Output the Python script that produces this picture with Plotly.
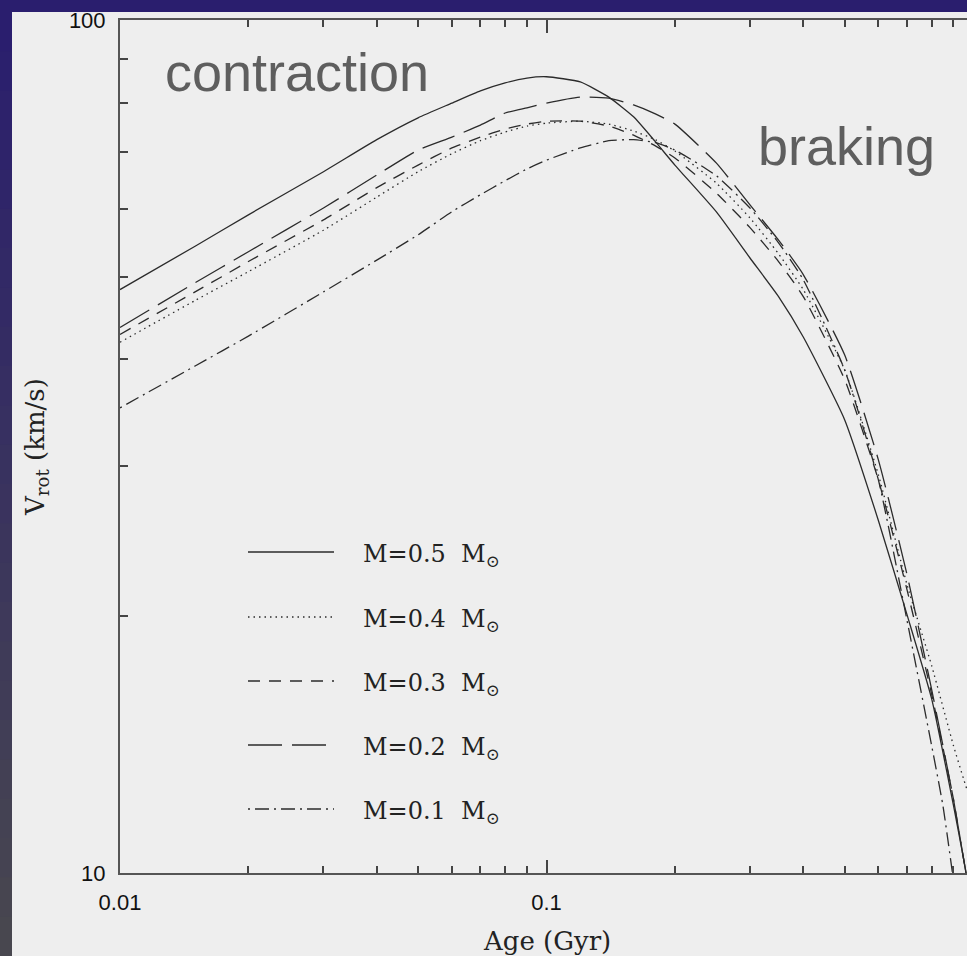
import plotly.graph_objects as go

# ---------------- data ----------------
ages = [0.01, 0.015, 0.02, 0.03, 0.04, 0.05, 0.06, 0.07, 0.08, 0.09, 0.1,
        0.12, 0.14, 0.16, 0.18, 0.2, 0.25, 0.3, 0.35, 0.4, 0.5, 0.6, 0.7,
        0.8, 0.9, 0.95]

ages_05 = ages + [0.97]
v_05 = [48.3, 54.3, 59.1, 66.4, 72.4, 76.8, 79.9, 82.6, 84.4, 85.5, 85.8,
        84.6, 81.2, 77.0, 72.0, 67.6, 59.6, 52.6, 47.4, 42.5, 34.0, 25.9,
        20.1, 16.0, 12.0, 10.4, 9.8]

ages_04 = ages + [1.0]
v_04 = [41.9, 46.9, 50.7, 56.7, 62.0, 66.4, 69.7, 72.2, 73.9, 75.1, 75.7,
        76.1, 75.5, 74.1, 72.4, 70.2, 64.4, 58.6, 53.2, 48.3, 38.9, 29.3,
        21.8, 17.5, 14.1, 12.9, 11.9]

ages_03 = ages + [0.97]
v_03 = [42.8, 48.0, 52.1, 58.3, 63.6, 67.6, 70.8, 72.9, 74.5, 75.5, 76.1,
        76.1, 75.1, 73.3, 71.2, 68.9, 62.7, 57.1, 52.1, 47.4, 37.9, 28.9,
        21.5, 16.2, 12.2, 10.4, 9.8]

ages_02 = ages + [0.97]
v_02 = [43.6, 49.2, 53.5, 60.2, 65.8, 70.4, 72.9, 75.3, 77.8, 78.9, 79.9,
        81.2, 81.0, 79.5, 77.6, 75.5, 68.0, 60.7, 55.2, 50.3, 40.5, 30.5,
        22.4, 16.4, 12.2, 10.4, 9.8]

ages_01 = ages[:24] + [0.85, 0.9]
v_01 = [35.1, 39.3, 42.6, 48.0, 52.3, 56.0, 59.6, 62.4, 64.8, 66.9, 68.5,
        70.8, 72.2, 72.4, 71.8, 70.4, 65.7, 60.2, 54.8, 49.6, 38.9, 28.9,
        19.8, 14.1, 12.0, 9.8]

series_labels = ["M=0.5&nbsp; M<sub>⊙</sub>", "M=0.4&nbsp; M<sub>⊙</sub>",
                 "M=0.3&nbsp; M<sub>⊙</sub>", "M=0.2&nbsp; M<sub>⊙</sub>",
                 "M=0.1&nbsp; M<sub>⊙</sub>"]

x_tickvals = [0.01, 0.1]
x_ticktext = ["0.01", "0.1"]
x_minor = [0.02, 0.03, 0.04, 0.05, 0.06, 0.07, 0.08, 0.09,
           0.2, 0.3, 0.4, 0.5, 0.6, 0.7, 0.8, 0.9]
y_tickvals = [10, 100]
y_ticktext = ["10", "100"]
y_minor = [20, 30, 40, 50, 60, 70, 80, 90]

# ---------------- styling ----------------
W, H = 967, 956
L, R, T, B = 120, 0, 20, 83
pw, ph = W - L - R, H - T - B
LINE = "#2b2b2b"
SERIF = "DejaVu Serif"
dashes = ["solid", "1.5px,4px", "12px,9px", "34px,10px", "2px,5px,14px,5px"]


def px2paper_x(px):
    return (px - L) / pw


def px2paper_y(py):
    return (H - B - py) / ph


fig = go.Figure()
all_series = [(ages_05, v_05), (ages_04, v_04), (ages_03, v_03),
              (ages_02, v_02), (ages_01, v_01)]
for (xs, ys), dash, name in zip(all_series, dashes, series_labels):
    fig.add_trace(go.Scatter(x=xs, y=ys, mode="lines", name=name,
                             line=dict(color=LINE, width=1.3, dash=dash,
                                       shape="spline", smoothing=0.5),
                             showlegend=False, hoverinfo="x+y"))

shapes = []
# slide background strips (top strip and left gradient strip)
shapes.append(dict(type="rect", xref="paper", yref="paper", layer="below",
                   x0=px2paper_x(0), x1=px2paper_x(W), y0=px2paper_y(0), y1=px2paper_y(12),
                   fillcolor="#2a1e6e", line=dict(width=0)))
c0 = (0x2a, 0x1e, 0x6e)
c1 = (0x48, 0x47, 0x4f)
nb = 24
for i in range(nb):
    t = i / (nb - 1)
    col = "rgb(%d,%d,%d)" % tuple(round(a + (b - a) * t) for a, b in zip(c0, c1))
    y0p = 12 + (H - 12) * i / nb
    y1p = 12 + (H - 12) * (i + 1) / nb
    shapes.append(dict(type="rect", xref="paper", yref="paper", layer="below",
                       x0=px2paper_x(0), x1=px2paper_x(12),
                       y0=px2paper_y(y0p), y1=px2paper_y(y1p + 1),
                       fillcolor=col, line=dict(width=0)))

# legend samples
leg_rows = [552, 617, 681, 745, 809]
annotations = []
for row, dash, name in zip(leg_rows, dashes, series_labels):
    shapes.append(dict(type="line", xref="paper", yref="paper",
                       x0=px2paper_x(248), x1=px2paper_x(334),
                       y0=px2paper_y(row), y1=px2paper_y(row),
                       line=dict(color=LINE, width=1.3, dash=dash)))
    annotations.append(dict(xref="paper", yref="paper", x=px2paper_x(361),
                            y=px2paper_y(row + 3), xanchor="left", yanchor="middle",
                            text=name, showarrow=False,
                            font=dict(family=SERIF, size=24, color="#222")))

annotations += [
    dict(xref="paper", yref="paper", x=px2paper_x(163), y=px2paper_y(72),
         xanchor="left", yanchor="middle", text="contraction", showarrow=False,
         font=dict(family="Liberation Sans", size=54, color="#5e5e5e")),
    dict(xref="paper", yref="paper", x=px2paper_x(756), y=px2paper_y(146),
         xanchor="left", yanchor="middle", text="braking", showarrow=False,
         font=dict(family="Liberation Sans", size=54, color="#5e5e5e")),
    dict(xref="paper", yref="paper", x=px2paper_x(547), y=px2paper_y(941),
         xanchor="center", yanchor="middle", text="Age (Gyr)", showarrow=False,
         font=dict(family=SERIF, size=26, color="#222")),
    dict(xref="paper", yref="paper", x=px2paper_x(36), y=px2paper_y(447),
         xanchor="center", yanchor="middle", text="V<sub>rot</sub> (km/s)",
         textangle=-90, showarrow=False,
         font=dict(family=SERIF, size=26, color="#222")),
]

axis_common = dict(showline=True, linecolor="#555", linewidth=2, ticks="inside",
                   tickcolor="#444", tickwidth=1.5, ticklen=13, showgrid=False,
                   zeroline=False,
                   tickfont=dict(family="Liberation Sans", size=22, color="#111"))

fig.update_layout(
    width=W, height=H,
    margin=dict(l=L, r=R, t=T, b=B, pad=0),
    paper_bgcolor="#eeeeee", plot_bgcolor="#eeeeee",
    shapes=shapes, annotations=annotations, showlegend=False,
    xaxis=dict(type="log", range=[-2, -2 + pw / 426.5], mirror="ticks",
               tickvals=x_tickvals, ticktext=x_ticktext, ticklabelstandoff=9,
               minor=dict(tickvals=x_minor, ticks="inside", ticklen=7,
                          tickcolor="#444", tickwidth=1.5, showgrid=False),
               **axis_common),
    yaxis=dict(type="log", range=[1, 2], mirror=False,
               tickvals=y_tickvals, ticktext=y_ticktext, ticklabelstandoff=8,
               minor=dict(tickvals=y_minor, ticks="inside", ticklen=8,
                          tickcolor="#444", tickwidth=1.5, showgrid=False),
               **axis_common),
)

fig.write_html("out.html", config={"displayModeBar": False},
               post_script="document.body.style.margin='0px';"
                           "document.body.style.overflow='hidden';")
